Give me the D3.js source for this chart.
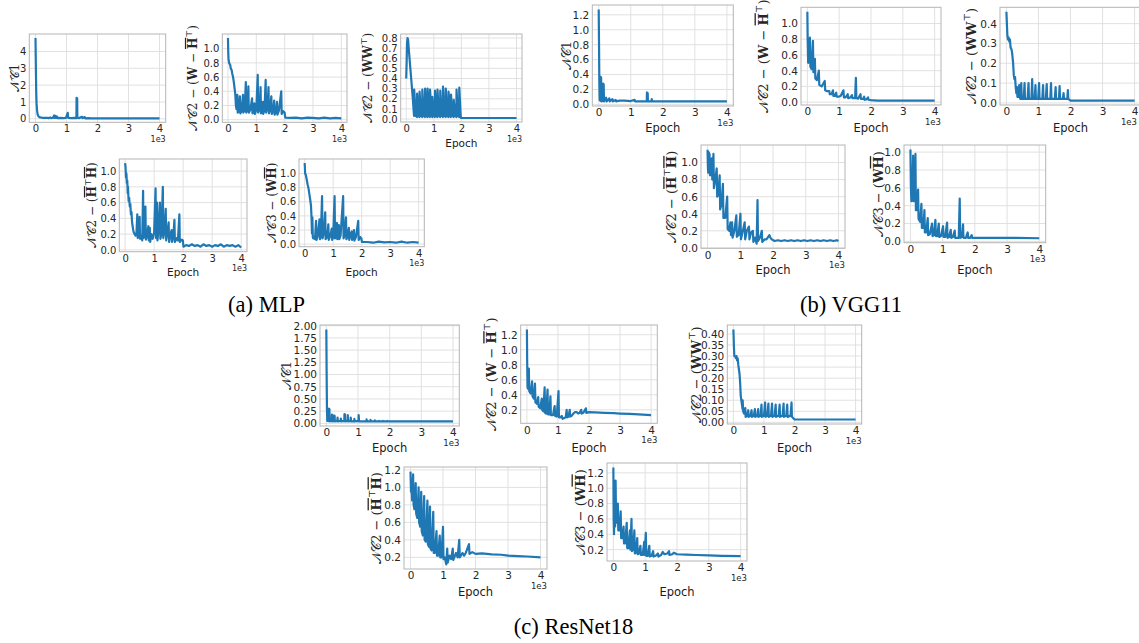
<!DOCTYPE html>
<html><head><meta charset="utf-8">
<script src="https://cdn.jsdelivr.net/npm/d3@7"></script>
<style>body{margin:0;background:#fff}svg{display:block}</style>
</head><body><svg id="c" width="1139" height="643"></svg>
<script>
// ---------------- DATA (epoch, value) ----------------
const mlpNC1 = [[0,4.8],[8,3.6],[16,2.5],[25,1.5],[35,0.9],[50,0.5],[70,0.25],[100,0.13],[150,0.08],[220,0.06],[300,0.05],[380,0.06],[420,0.04],[480,0.08],[500,0.04],[560,0.06],[600,0.2],[615,0.05],[650,0.17],[665,0.05],[700,0.12],[715,0.04],[800,0.05],[900,0.04],[980,0.05],[1040,0.35],[1055,0.05],[1150,0.04],[1250,0.05],[1320,0.04],[1325,1.25],[1345,1.2],[1350,0.06],[1400,0.04],[1500,0.12],[1515,0.04],[1590,0.1],[1605,0.03],[1700,0.04],[1800,0.03],[2000,0.03],[3000,0.03],[4000,0.03]];
const mlpNC2WH = [[0,1.15],[10,0.95],[20,0.85],[40,0.8],[80,0.77],[100,0.72],[130,0.7],[150,0.65],[180,0.6],[210,0.52],[240,0.42],[260,0.35],[280,0.2],[300,0.15],[330,0.35],[345,0.1],[380,0.12],[420,0.33],[435,0.09],[480,0.12],[530,0.35],[545,0.1],[590,0.14],[630,0.53],[645,0.1],[690,0.15],[720,0.47],[735,0.1],[790,0.14],[850,0.3],[865,0.09],[900,0.15],[930,0.23],[945,0.08],[1000,0.14],[1050,0.63],[1065,0.1],[1120,0.16],[1150,0.46],[1165,0.09],[1200,0.16],[1230,0.25],[1245,0.08],[1290,0.15],[1330,0.56],[1345,0.1],[1400,0.18],[1430,0.46],[1445,0.09],[1490,0.15],[1530,0.33],[1545,0.08],[1600,0.14],[1630,0.27],[1645,0.07],[1700,0.12],[1730,0.25],[1745,0.07],[1800,0.13],[1880,0.4],[1895,0.08],[1950,0.12],[2000,0.1],[2020,0.03],[2200,0.025],[2400,0.03],[2600,0.02],[2800,0.03],[3000,0.025],[3200,0.02],[3400,0.03],[3600,0.02],[3800,0.025],[4000,0.02]];
const mlpNC2WW = [[0,0.4],[15,0.55],[30,0.75],[50,0.8],[70,0.78],[90,0.7],[120,0.6],[150,0.5],[180,0.4],[210,0.3],[240,0.2],[270,0.08],[285,0.03],[290,0.29],[345,0.03],[390,0.02],[395,0.25],[450,0.03],[480,0.02],[485,0.27],[540,0.03],[580,0.02],[585,0.29],[640,0.03],[680,0.02],[685,0.3],[740,0.03],[770,0.02],[775,0.3],[830,0.03],[860,0.02],[865,0.29],[920,0.03],[945,0.02],[950,0.22],[1005,0.03],[1040,0.02],[1045,0.28],[1100,0.03],[1130,0.02],[1135,0.29],[1190,0.03],[1230,0.02],[1235,0.28],[1290,0.03],[1330,0.02],[1335,0.32],[1390,0.03],[1430,0.02],[1435,0.3],[1490,0.03],[1530,0.02],[1535,0.27],[1590,0.03],[1620,0.02],[1625,0.24],[1680,0.03],[1720,0.02],[1725,0.19],[1780,0.03],[1820,0.02],[1825,0.29],[1880,0.03],[1920,0.02],[1925,0.31],[1975,0.03],[1990,0.01],[3000,0.01],[4000,0.01]];
const mlpNC2HH = [[0,1.1],[15,1.05],[30,0.92],[45,0.97],[60,0.85],[75,0.88],[90,0.72],[100,0.8],[120,0.62],[140,0.66],[160,0.55],[180,0.58],[200,0.45],[220,0.48],[240,0.35],[260,0.3],[280,0.25],[300,0.22],[330,0.2],[360,0.18],[390,0.2],[420,0.45],[435,0.15],[470,0.2],[500,0.42],[515,0.14],[560,0.18],[590,0.12],[620,0.75],[635,0.15],[670,0.2],[700,0.55],[715,0.13],[760,0.18],[800,0.3],[815,0.12],[850,0.28],[865,0.1],[900,0.2],[950,0.14],[1000,0.22],[1050,0.78],[1065,0.15],[1100,0.6],[1115,0.12],[1150,0.25],[1200,0.6],[1215,0.14],[1250,0.2],[1300,0.8],[1315,0.15],[1350,0.22],[1400,0.52],[1415,0.12],[1450,0.2],[1500,0.35],[1515,0.1],[1550,0.18],[1600,0.25],[1615,0.1],[1660,0.17],[1700,0.38],[1715,0.1],[1780,0.15],[1820,0.12],[1870,0.45],[1885,0.1],[1950,0.13],[1990,0.12],[2010,0.04],[2100,0.06],[2200,0.05],[2300,0.07],[2400,0.05],[2500,0.06],[2600,0.04],[2700,0.07],[2800,0.05],[2900,0.06],[3000,0.04],[3100,0.06],[3200,0.05],[3300,0.07],[3400,0.04],[3500,0.06],[3600,0.05],[3700,0.06],[3800,0.04],[3900,0.06],[4000,0.03]];
const mlpNC3 = [[0,1.15],[15,1.0],[40,0.98],[70,0.92],[100,0.85],[130,0.8],[160,0.72],[190,0.64],[220,0.55],[240,0.38],[255,0.15],[270,0.38],[285,0.1],[300,0.08],[330,0.1],[360,0.07],[400,0.33],[415,0.06],[460,0.12],[520,0.35],[535,0.07],[570,0.15],[610,0.68],[625,0.08],[670,0.15],[720,0.45],[735,0.07],[790,0.1],[830,0.28],[845,0.06],[900,0.12],[950,0.22],[965,0.06],[1000,0.1],[1050,0.68],[1065,0.08],[1100,0.12],[1130,0.3],[1145,0.07],[1200,0.27],[1215,0.07],[1260,0.12],[1350,0.68],[1365,0.08],[1400,0.12],[1450,0.38],[1465,0.07],[1500,0.1],[1550,0.23],[1565,0.06],[1600,0.12],[1650,0.18],[1665,0.06],[1730,0.2],[1745,0.05],[1800,0.1],[1880,0.33],[1895,0.06],[1950,0.1],[1990,0.08],[2010,0.03],[2200,0.03],[2400,0.02],[2600,0.035],[2800,0.025],[3000,0.03],[3200,0.02],[3400,0.035],[3600,0.02],[3800,0.03],[4000,0.02]];

const vggNC1 = [[0,1.27],[10,0.8],[20,0.3],[30,0.06],[50,0.05],[60,0.37],[75,0.36],[85,0.04],[130,0.05],[140,0.28],[155,0.27],[165,0.04],[230,0.09],[245,0.04],[330,0.08],[345,0.04],[430,0.07],[445,0.04],[530,0.06],[545,0.04],[650,0.05],[800,0.05],[1000,0.045],[1120,0.06],[1135,0.04],[1300,0.04],[1500,0.04],[1505,0.16],[1530,0.15],[1535,0.04],[1650,0.04],[1655,0.07],[1670,0.04],[2000,0.04],[3000,0.04],[4000,0.04]];
const vggNC2WH = [[0,1.15],[10,0.8],[25,0.5],[50,0.55],[80,0.82],[95,0.45],[130,0.42],[175,0.78],[190,0.38],[237,0.55],[250,0.3],[300,0.28],[360,0.4],[375,0.22],[450,0.2],[546,0.27],[560,0.15],[620,0.14],[690,0.14],[705,0.1],[760,0.1],[804,0.15],[818,0.08],[860,0.08],[907,0.12],[920,0.07],[1000,0.07],[1050,0.08],[1134,0.15],[1148,0.06],[1200,0.06],[1268,0.1],[1282,0.05],[1350,0.06],[1402,0.09],[1416,0.05],[1500,0.05],[1525,0.31],[1540,0.05],[1600,0.045],[1670,0.1],[1684,0.04],[1750,0.04],[1784,0.07],[1798,0.03],[1850,0.035],[1907,0.06],[1920,0.03],[2000,0.025],[2200,0.02],[3000,0.02],[4000,0.02]];
const vggNC2WW = [[0,0.46],[15,0.4],[30,0.34],[50,0.32],[70,0.33],[90,0.31],[110,0.32],[130,0.28],[160,0.27],[180,0.25],[210,0.2],[230,0.14],[250,0.12],[270,0.13],[290,0.08],[310,0.05],[330,0.08],[345,0.03],[380,0.03],[400,0.09],[415,0.03],[440,0.02],[464,0.1],[478,0.02],[540,0.02],[567,0.1],[580,0.02],[660,0.02],[690,0.1],[704,0.02],[780,0.02],[804,0.12],[818,0.02],[880,0.02],[907,0.09],[920,0.02],[990,0.02],[1020,0.1],[1034,0.02],[1120,0.02],[1144,0.09],[1158,0.02],[1230,0.02],[1258,0.095],[1272,0.02],[1370,0.02],[1392,0.1],[1406,0.02],[1510,0.02],[1536,0.08],[1550,0.02],[1640,0.02],[1660,0.085],[1674,0.02],[1760,0.02],[1784,0.05],[1798,0.02],[1900,0.02],[1918,0.065],[1932,0.02],[2000,0.012],[3000,0.012],[4000,0.012]];
const vggNC2HH = [[0,1.15],[10,0.95],[20,0.88],[40,1.12],[50,0.9],[60,1.1],[75,0.85],[100,0.95],[130,1.05],[145,0.8],[160,0.9],[180,1.1],[195,0.7],[230,0.78],[280,0.93],[295,0.6],[330,0.62],[370,0.85],[385,0.45],[420,0.5],[470,0.75],[485,0.35],[540,0.35],[600,0.6],[615,0.22],[660,0.2],[700,0.3],[715,0.15],[750,0.3],[765,0.12],[820,0.2],[880,0.38],[895,0.13],[950,0.15],[1005,0.4],[1020,0.1],[1080,0.2],[1135,0.3],[1150,0.1],[1200,0.2],[1265,0.25],[1280,0.1],[1330,0.18],[1385,0.2],[1400,0.07],[1450,0.12],[1500,0.05],[1527,0.56],[1542,0.08],[1600,0.12],[1658,0.2],[1672,0.07],[1750,0.1],[1800,0.1],[1890,0.15],[1920,0.12],[1960,0.1],[2050,0.08],[2150,0.09],[2250,0.08],[2350,0.09],[2450,0.08],[2550,0.09],[2650,0.08],[2750,0.09],[2850,0.08],[2950,0.09],[3050,0.08],[3150,0.09],[3250,0.08],[3350,0.09],[3450,0.08],[3550,0.09],[3650,0.08],[3750,0.09],[3850,0.08],[3950,0.09],[4000,0.08]];
const vggNC3 = [[0,1.03],[15,0.6],[30,0.45],[60,0.5],[83,0.96],[95,0.45],[130,0.45],[155,0.98],[170,0.35],[200,0.35],[238,0.58],[252,0.25],[300,0.22],[341,0.42],[355,0.15],[400,0.15],[434,0.35],[448,0.1],[490,0.1],[537,0.26],[550,0.07],[600,0.08],[672,0.2],[686,0.06],[730,0.07],[775,0.24],[789,0.06],[830,0.06],[879,0.2],[893,0.05],[950,0.06],[1013,0.17],[1027,0.05],[1080,0.05],[1137,0.21],[1151,0.04],[1200,0.05],[1251,0.13],[1265,0.04],[1320,0.05],[1375,0.12],[1389,0.04],[1500,0.04],[1530,0.48],[1545,0.04],[1600,0.05],[1633,0.19],[1647,0.04],[1720,0.04],[1778,0.1],[1792,0.04],[1850,0.04],[1902,0.07],[1916,0.04],[2000,0.04],[3000,0.04],[4000,0.035]];

const resNC1 = [[0,1.92],[10,1.0],[20,0.3],[30,0.05],[70,0.05],[83,0.3],[98,0.29],[105,0.04],[170,0.05],[177,0.18],[190,0.17],[197,0.04],[245,0.05],[250,0.16],[262,0.15],[268,0.04],[348,0.05],[354,0.12],[366,0.04],[452,0.05],[458,0.1],[470,0.04],[567,0.05],[573,0.19],[588,0.18],[595,0.04],[671,0.05],[677,0.17],[690,0.04],[765,0.05],[771,0.12],[783,0.04],[879,0.04],[885,0.09],[897,0.04],[1015,0.05],[1021,0.17],[1034,0.04],[1265,0.04],[1271,0.08],[1283,0.04],[1390,0.04],[1396,0.07],[1408,0.04],[1525,0.04],[1531,0.06],[1543,0.04],[1661,0.04],[1667,0.05],[1680,0.04],[1786,0.04],[1792,0.05],[1805,0.04],[1921,0.04],[1927,0.05],[1940,0.04],[2000,0.04],[4000,0.04]];
const resNC2WH = [[0,1.27],[10,0.8],[20,0.5],[40,0.48],[62,0.75],[75,0.45],[120,0.42],[166,0.58],[180,0.38],[220,0.35],[260,0.55],[274,0.3],[320,0.28],[364,0.37],[378,0.24],[430,0.22],[478,0.35],[492,0.2],[530,0.18],[571,0.5],[585,0.16],[620,0.15],[665,0.47],[679,0.14],[720,0.14],[758,0.38],[772,0.13],[840,0.13],[894,0.25],[908,0.12],[960,0.11],[1018,0.45],[1032,0.1],[1080,0.1],[1120,0.12],[1150,0.08],[1200,0.09],[1250,0.1],[1280,0.2],[1294,0.1],[1340,0.11],[1380,0.2],[1394,0.11],[1440,0.12],[1500,0.15],[1550,0.17],[1600,0.17],[1650,0.15],[1700,0.16],[1750,0.2],[1764,0.15],[1820,0.16],[1900,0.22],[1914,0.16],[2000,0.17],[2200,0.165],[2500,0.16],[2800,0.155],[3000,0.15],[3300,0.145],[3600,0.14],[4000,0.13]];
const resNC2WW = [[0,0.42],[15,0.35],[30,0.3],[60,0.3],[80,0.29],[100,0.3],[120,0.28],[140,0.29],[160,0.26],[180,0.24],[200,0.22],[220,0.18],[240,0.12],[260,0.1],[280,0.08],[300,0.06],[303,0.1],[320,0.05],[350,0.04],[389,0.065],[400,0.025],[450,0.03],[486,0.055],[498,0.025],[560,0.03],[595,0.055],[607,0.025],[670,0.03],[703,0.06],[715,0.025],[780,0.03],[811,0.06],[823,0.025],[890,0.03],[919,0.08],[931,0.025],[1000,0.03],[1038,0.09],[1050,0.025],[1110,0.03],[1146,0.085],[1158,0.025],[1230,0.03],[1265,0.085],[1277,0.025],[1350,0.03],[1384,0.08],[1396,0.025],[1480,0.03],[1514,0.08],[1526,0.025],[1610,0.03],[1643,0.085],[1655,0.025],[1730,0.03],[1762,0.08],[1774,0.025],[1870,0.03],[1903,0.09],[1915,0.025],[2000,0.013],[3000,0.013],[4000,0.013]];
const resNC2HH = [[0,1.18],[15,0.95],[30,1.0],[50,0.85],[80,1.15],[95,0.8],[120,0.75],[160,1.05],[175,0.7],[210,0.65],[250,1.0],[265,0.6],[300,0.55],[330,0.95],[345,0.5],[380,0.45],[420,0.9],[435,0.4],[470,0.38],[520,0.85],[535,0.35],[570,0.32],[600,0.78],[615,0.3],[650,0.28],[700,0.72],[715,0.25],[750,0.25],[800,0.5],[815,0.22],[850,0.22],[900,0.45],[915,0.2],[950,0.2],[1000,0.55],[1015,0.18],[1050,0.2],[1100,0.12],[1130,0.3],[1145,0.14],[1200,0.22],[1250,0.18],[1300,0.3],[1315,0.17],[1350,0.2],[1400,0.25],[1450,0.2],[1500,0.4],[1515,0.2],[1550,0.22],[1600,0.25],[1650,0.22],[1700,0.25],[1800,0.35],[1815,0.24],[1900,0.26],[2000,0.24],[2200,0.245],[2500,0.235],[2800,0.23],[3000,0.22],[3300,0.215],[3600,0.21],[4000,0.2]];
const resNC3 = [[0,1.27],[10,0.6],[20,0.4],[40,0.9],[55,0.5],[70,1.1],[85,0.6],[110,0.55],[140,0.8],[155,0.45],[190,0.45],[230,0.7],[245,0.35],[280,0.35],[320,0.5],[335,0.28],[370,0.28],[420,0.55],[435,0.22],[470,0.22],[520,0.45],[535,0.2],[570,0.6],[585,0.18],[620,0.2],[660,0.45],[675,0.15],[710,0.16],[750,0.35],[765,0.14],[800,0.15],[850,0.25],[865,0.13],[920,0.13],[970,0.3],[985,0.13],[1020,0.42],[1035,0.12],[1080,0.12],[1130,0.25],[1145,0.11],[1200,0.12],[1250,0.18],[1265,0.11],[1330,0.12],[1400,0.15],[1415,0.11],[1500,0.13],[1550,0.17],[1600,0.14],[1700,0.15],[1750,0.18],[1765,0.13],[1850,0.14],[1900,0.16],[2000,0.14],[2300,0.135],[2600,0.13],[3000,0.125],[3400,0.12],[4000,0.115]];

// tick values
const xTicks = [0,1000,2000,3000,4000];
const xTickLabels = ["0","1","2","3","4"];
const ticks0to4 = [0,1,2,3,4];
const ticks0to1 = [0,0.2,0.4,0.6,0.8,1.0];
const ticks0to08 = [0,0.1,0.2,0.3,0.4,0.5,0.6,0.7,0.8];
const ticks0to12 = [0,0.2,0.4,0.6,0.8,1.0,1.2];
const ticks0to04 = [0,0.1,0.2,0.3,0.4];
const ticks0to2 = [0,0.25,0.5,0.75,1.0,1.25,1.5,1.75,2.0];
const ticks02to12 = [0.2,0.4,0.6,0.8,1.0,1.2];
const ticks0to040 = [0,0.05,0.1,0.15,0.2,0.25,0.3,0.35,0.4];

// labels (segments)
const L_NC1 = [{t:"𝒩𝒞1"}];
const L_WH = [{t:"𝒩𝒞2 − ("},{t:"W",b:1},{t:" − "},{t:"H",b:1,o:1},{t:"⊤",sup:1},{t:")"}];
const L_WW = [{t:"𝒩𝒞2 − ("},{t:"WW",b:1},{t:"⊤",sup:1},{t:")"}];
const L_HH = [{t:"𝒩𝒞2 − ("},{t:"H",b:1,o:1},{t:"⊤",sup:1},{t:"H",b:1,o:1},{t:")"}];
const L_NC3 = [{t:"𝒩𝒞3 − ("},{t:"W",b:1},{t:"H",b:1,o:1},{t:")"}];

const captions = [{t:"(a) MLP",x:266.5,y:312},{t:"(b) VGG11",x:851,y:312},{t:"(c) ResNet18",x:573.5,y:634}];

// ---------------- LAYOUT ----------------
const sM = {tick:10, lab:12, ep:10.5, off:8};
const sV = {tick:10.5, lab:13, ep:11.5, off:8.5};
// ey: centre of the "Epoch" label (null where the next row's image hides it)
const panels = [
  {d:mlpNC1, yt:ticks0to4, f:".0f", L:L_NC1, box:[29.3,34,165.7,122.3], lx:15, ey:null, s:sM},
  {d:mlpNC2WH, yt:ticks0to1, f:".1f", L:L_WH, box:[222.3,34,347,122.3], lx:192.7, ey:null, s:sM},
  {d:mlpNC2WW, yt:ticks0to08, f:".1f", L:L_WW, box:[400.7,34,522,122], lx:368, ey:143, s:sM},
  {d:mlpNC2HH, yt:ticks0to1, f:".1f", L:L_HH, box:[119.3,159,247,251.7], lx:91.7, ey:272, s:sM},
  {d:mlpNC3, yt:ticks0to1, f:".1f", L:L_NC3, box:[299,159,424.3,246.7], lx:271.7, ey:272, s:sM},
  {d:vggNC1, yt:ticks0to12, f:".1f", L:L_NC1, box:[592.3,5,733.3,106], lx:566.7, ey:128.3, s:sV},
  {d:vggNC2WH, yt:ticks0to1, f:".1f", L:L_WH, box:[801,7.3,941,105], lx:763, ey:128.3, s:sV},
  {d:vggNC2WW, yt:ticks0to04, f:".1f", L:L_WW, box:[1000,7.3,1141,105], lx:971.7, ey:128.3, s:sV},
  {d:vggNC2HH, yt:ticks0to1, f:".1f", L:L_HH, box:[701,145,845,248.3], lx:671.7, ey:270, s:sV},
  {d:vggNC3, yt:ticks0to1, f:".1f", L:L_NC3, box:[904,145,1045.7,242.7], lx:878.3, ey:269.5, s:sV},
  {d:resNC1, yt:ticks0to2, f:".2f", L:L_NC1, box:[320,325,459.3,426], lx:286.7, ey:447.7, s:sV},
  {d:resNC2WH, yt:ticks02to12, f:".1f", L:L_WH, box:[520.7,325,657.3,423.3], lx:491.7, ey:447.7, s:sV},
  {d:resNC2WW, yt:ticks0to040, f:".2f", L:L_WW, box:[727.3,325,861.7,424], lx:696.7, ey:447.7, s:sV},
  {d:resNC2HH, yt:ticks02to12, f:".1f", L:L_HH, box:[404,467,547,569], lx:376, ey:592, s:sV},
  {d:resNC3, yt:ticks02to12, f:".1f", L:L_NC3, box:[607,463,747,561], lx:580, ey:592, s:sV}
];

const W = 1139;
const svg = d3.select("#c");
svg.append("rect").attr("width",W).attr("height",643).attr("fill","#fff");

panels.forEach(p => {
  const [x0,y0,x1,y1] = p.box, s = p.s;
  const g = svg.append("g");
  const x = d3.scaleLinear().domain([-200,4200]).range([x0,x1]);
  const ext = d3.extent(p.d, d=>d[1]); const pad = (ext[1]-ext[0])*0.05;
  const y = d3.scaleLinear().domain([ext[0]-pad, ext[1]+pad]).range([y1,y0]);
  const clipId = "cl"+Math.round(x0)+"_"+Math.round(y0);
  g.append("clipPath").attr("id",clipId).append("rect").attr("x",x0).attr("y",y0).attr("width",x1-x0).attr("height",y1-y0);
  // grid
  g.append("g").selectAll("line").data(p.yt).join("line")
    .attr("x1",x0).attr("x2",x1).attr("y1",d=>y(d)).attr("y2",d=>y(d))
    .attr("stroke","#dedede").attr("stroke-width",0.9);
  g.append("g").selectAll("line").data(xTicks).join("line")
    .attr("y1",y0).attr("y2",y1).attr("x1",d=>x(d)).attr("x2",d=>x(d))
    .attr("stroke","#dedede").attr("stroke-width",0.9);
  // axes
  const ay = g.append("g").attr("transform",`translate(${x0},0)`)
    .call(d3.axisLeft(y).tickValues(p.yt).tickFormat(d3.format(p.f)).tickSize(0).tickPadding(3));
  const ax = g.append("g").attr("transform",`translate(0,${y1})`)
    .call(d3.axisBottom(x).tickValues(xTicks).tickFormat((d,i)=>xTickLabels[i]).tickSize(0).tickPadding(3));
  [ay,ax].forEach(a=>{a.select(".domain").remove(); a.selectAll("text").attr("font-family","DejaVu Sans").attr("font-size",s.tick).attr("fill","#262626");});
  // line
  g.append("path").datum(p.d).attr("clip-path",`url(#${clipId})`)
    .attr("d", d3.line().x(d=>x(d[0])).y(d=>y(d[1])))
    .attr("fill","none").attr("stroke","#1f77b4").attr("stroke-width",2.2).attr("stroke-linejoin","round");
  // frame
  g.append("rect").attr("x",x0).attr("y",y0).attr("width",x1-x0).attr("height",y1-y0)
    .attr("fill","none").attr("stroke","#b5b5b5").attr("stroke-width",1);
  // offset text
  g.append("text").attr("x",Math.min(x1, W-2)).attr("y",y1+19.5).attr("text-anchor","end")
    .attr("font-family","DejaVu Sans").attr("font-size",s.off).attr("fill","#262626").text("1e3");
  if (p.ey !== null)
    g.append("text").attr("x",(x0+x1)/2).attr("y",p.ey + s.ep*0.36).attr("text-anchor","middle")
      .attr("font-family","DejaVu Sans").attr("font-size",s.ep).attr("fill","#1a1a1a").text("Epoch");
  // y label
  const fs = s.lab;
  const t = g.append("text").attr("transform",`translate(${p.lx + fs*0.35},${(y0+y1)/2}) rotate(-90)`)
    .attr("text-anchor","middle").attr("font-family","DejaVu Serif").attr("font-size",fs).attr("fill","#262626");
  let raised = false;
  p.L.forEach(seg => {
    const ts = t.append("tspan").text(seg.t);
    if (seg.b) ts.attr("font-weight","bold");
    if (seg.o) ts.style("text-decoration","overline");
    if (seg.sup) { ts.attr("font-size",fs*0.7).attr("dy",-fs*0.45); raised = true; }
    else if (raised) { ts.attr("dy",fs*0.45); raised = false; }
  });
});

captions.forEach(c => svg.append("text").attr("x",c.x).attr("y",c.y).attr("text-anchor","middle")
  .attr("font-family","Liberation Serif").attr("font-size",22.5).attr("fill","#000").text(c.t));
</script></body></html>
